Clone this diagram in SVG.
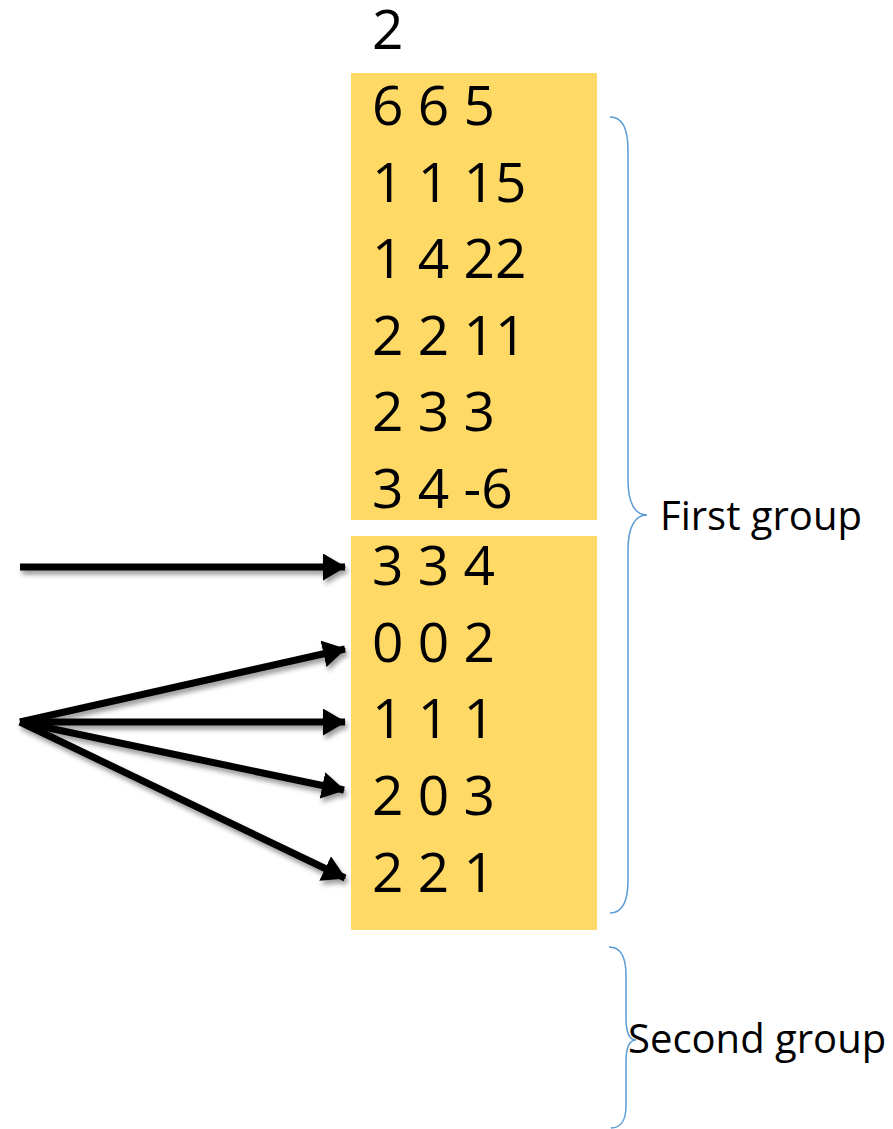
<svg xmlns="http://www.w3.org/2000/svg" width="893" height="1129" viewBox="0 0 893 1129">
<style>
.box{fill:#FFD966}
.num{font-family:"Open Sans","Liberation Sans",sans-serif;font-size:55px;fill:#000}
.lbl{font-family:"Open Sans","Liberation Sans",sans-serif;font-size:40px;fill:#000}
.brace{fill:none;stroke:#5B9BD5;stroke-width:1.5}
.arr{stroke:#000;stroke-width:7;fill:none;marker-end:url(#ah)}
</style>
<defs>
<marker id="ah" markerUnits="userSpaceOnUse" markerWidth="24" markerHeight="28" refX="22" refY="13.5" orient="auto">
<path d="M0,0 L23,13.5 L0,27 Z" fill="#000"/>
</marker>
<filter id="sh" x="-10%" y="-20%" width="130%" height="150%">
<feDropShadow dx="2" dy="4" stdDeviation="2.5" flood-color="#000" flood-opacity="0.4"/>
</filter>
</defs>
<text class="num" x="372" y="49">2</text>
<g id="group1">
<rect class="box" x="351" y="73" width="246" height="447"/>
<text class="num" x="372" y="125">6 6 5</text>
<text class="num" x="372" y="202">1 1 15</text>
<text class="num" x="372" y="278">1 4 22</text>
<text class="num" x="372" y="355">2 2 11</text>
<text class="num" x="372" y="431">2 3 3</text>
<text class="num" x="372" y="508">3 4 -6</text>
</g>
<g id="group2">
<rect class="box" x="351" y="536" width="246" height="394"/>
<text class="num" x="372" y="585">3 3 4</text>
<text class="num" x="372" y="662">0 0 2</text>
<text class="num" x="372" y="738">1 1 1</text>
<text class="num" x="372" y="815">2 0 3</text>
<text class="num" x="372" y="892">2 2 1</text>
</g>
<g id="brace-first">
<path class="brace" d="M610,117 C622,117 628,128 628,150 L628,480 C628,503 635,515 647,515 C635,515 628,527 628,550 L628,880 C628,902 622,913 610,913"/>
<text class="lbl" x="660" y="530">First group</text>
</g>
<g id="brace-second">
<path class="brace" d="M609,947 C620,947 626,956 626,975 L626,1018 C626,1033 630,1040 636,1040 C630,1040 626,1047 626,1062 L626,1106 C626,1121 620,1128 611,1128"/>
<text class="lbl" x="628" y="1053">Second group</text>
</g>
<g id="connectors" filter="url(#sh)">
<line class="arr" x1="20" y1="567" x2="345" y2="567"/>
<line class="arr" x1="20" y1="722" x2="345" y2="649"/>
<line class="arr" x1="20" y1="722" x2="345" y2="722"/>
<line class="arr" x1="20" y1="722" x2="344" y2="790"/>
<line class="arr" x1="20" y1="722" x2="345" y2="878"/>
</g>
</svg>
